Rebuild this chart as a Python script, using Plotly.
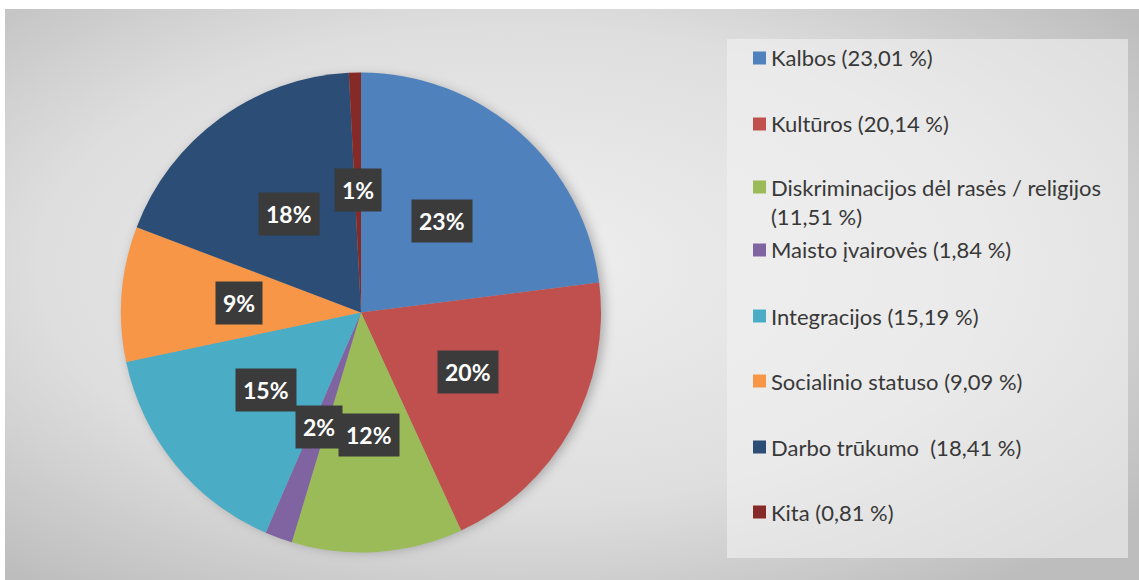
import base64, math
import plotly.graph_objects as go

# ---- data ----
categories = ["Kalbos", "Kultūros", "Diskriminacijos dėl rasės / religijos",
              "Maisto įvairovės", "Integracijos", "Socialinio statuso",
              "Darbo trūkumo", "Kita"]
values = [23.01, 20.14, 11.51, 1.84, 15.19, 9.09, 18.41, 0.81]
legend_lines = [["Kalbos (23,01 %)"], ["Kultūros (20,14 %)"],
                ["Diskriminacijos dėl rasės / religijos", "(11,51 %)"],
                ["Maisto įvairovės (1,84 %)"], ["Integracijos (15,19 %)"],
                ["Socialinio statuso (9,09 %)"], ["Darbo trūkumo  (18,41 %)"],
                ["Kita (0,81 %)"]]
colors = ["#4f81bd", "#c0504d", "#9bbb59", "#8064a2", "#4bacc6", "#f79646",
          "#2c4d75", "#862a27"]

W, H = 1139, 580
# pie geometry (pixels)
CX, CY, R = 361, 312.5, 240

fig = go.Figure()
fig.add_trace(go.Pie(
    labels=categories, values=values, sort=False, direction="clockwise",
    rotation=0, marker=dict(colors=colors, line=dict(width=0)),
    textinfo="none", hoverinfo="label+percent", showlegend=False,
    domain=dict(x=[(CX - R) / W, (CX + R) / W],
                y=[(H - CY - R) / H, (H - CY + R) / H]),
))

# background radial gradient (with soft pie shadow) as svg image
svg = f'''<svg xmlns="http://www.w3.org/2000/svg" width="{W}" height="{H}" preserveAspectRatio="none">
<defs><radialGradient id="g" cx="45%" cy="45%" r="70%">
<stop offset="0%" stop-color="#efefef"/><stop offset="60%" stop-color="#dedede"/>
<stop offset="100%" stop-color="#bdbdbd"/></radialGradient>
<filter id="f"><feGaussianBlur stdDeviation="6"/></filter></defs>
<rect width="100%" height="100%" fill="url(#g)"/>
<circle cx="{CX - 5 + 5}" cy="{CY - 9 + 6}" r="{R + 1}" fill="rgba(0,0,0,0.28)" filter="url(#f)"/>
</svg>'''
src = "data:image/svg+xml;base64," + base64.b64encode(svg.encode()).decode()
fig.add_layout_image(dict(source=src, xref="paper", yref="paper",
                          x=5 / W, y=1 - 9 / H, sizex=1 - 5 / W, sizey=1 - 9 / H,
                          xanchor="left", yanchor="top", sizing="stretch",
                          layer="below"))

shapes = []
annotations = []
# legend panel
shapes.append(dict(type="rect", xref="paper", yref="paper",
                   x0=727 / W, x1=1128 / W, y0=1 - 558 / H, y1=1 - 39 / H,
                   fillcolor="rgba(242,242,242,0.6)", line=dict(width=0),
                   layer="below"))

# pie percentage labels
total = sum(values)
cum = 0
for v in values:
    mid = 2 * math.pi * (cum + v / 2) / total
    cum += v
    x = CX + 0.51 * R * math.sin(mid)
    y = CY - 0.51 * R * math.cos(mid)
    annotations.append(dict(
        x=x / W, y=1 - y / H, xref="paper", yref="paper", showarrow=False,
        xanchor="center", yanchor="middle",
        text=f"{round(v / total * 100)}%", bgcolor="#3b3b3b", borderpad=7,
        font=dict(family="Lato", size=23, color="white", weight="bold")))

# legend
row_y = [58, 124, 187, 250, 316, 381, 447, 512]
line_gap = 29
for i, lines in enumerate(legend_lines):
    y0 = row_y[i]
    shapes.append(dict(type="rect", xref="paper", yref="paper",
                       x0=753 / W, x1=766 / W, y0=1 - (y0 + 6.5) / H,
                       y1=1 - (y0 - 6.5) / H, fillcolor=colors[i],
                       line=dict(width=0)))
    for j, t in enumerate(lines):
        annotations.append(dict(
            x=769 / W, y=1 - (y0 + j * line_gap) / H, xref="paper", yref="paper",
            xanchor="left", yanchor="middle", showarrow=False, text=t,
            font=dict(family="Lato", size=22, color="#383838")))

fig.update_layout(width=W, height=H, margin=dict(l=0, r=0, t=0, b=0),
                  paper_bgcolor="white", plot_bgcolor="white",
                  shapes=shapes, annotations=annotations, showlegend=False)
fig.write_html("out.html", config={"displayModeBar": False},
               post_script="document.body.style.margin='0';document.body.style.overflow='hidden';")
